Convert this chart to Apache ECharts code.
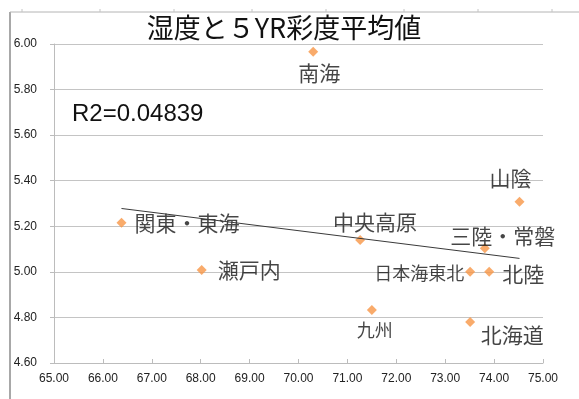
<!DOCTYPE html>
<html>
<head>
<meta charset="utf-8">
<script src="https://cdn.jsdelivr.net/npm/echarts@6/dist/echarts.min.js"></script>
<style>
  html, body { margin: 0; padding: 0; background: #ffffff; }
  #chart { width: 579px; height: 399px; }
</style>
</head>
<body>
<div id="chart"></div>
<script>
// Regions, mean humidity (%) and mean 5YR chroma
const regions  = ['南海', '関東・東海', '瀬戸内', '中央高原', '山陰', '三陸・常磐', '日本海東北', '北陸', '九州', '北海道'];
const humidity = [70.30, 66.38, 68.02, 71.26, 74.52, 73.81, 73.51, 73.90, 71.50, 73.51];
const chroma   = [5.966, 5.216, 5.008, 5.140, 5.308, 5.104, 5.001, 5.001, 4.833, 4.780];

// Axis ranges: [min, max, interval]
const xRange = [65, 75, 1];
const yRange = [4.6, 6.0, 0.2];

const titleText = '湿度と５YR彩度平均値';
const r2Text = 'R2=0.04839';

// Where each region's name sits relative to its marker
const labelPlacement = {
  '南海':       { align: 'center', offset: [6, 21],   size: 21 },
  '関東・東海': { align: 'left',   offset: [13, 0],   size: 21 },
  '瀬戸内':     { align: 'left',   offset: [16, 0],   size: 21 },
  '中央高原':   { align: 'center', offset: [15, -18], size: 21 },
  '山陰':       { align: 'center', offset: [-9, -24], size: 21 },
  '三陸・常磐': { align: 'center', offset: [18, -12], size: 21 },
  '日本海東北': { align: 'right',  offset: [-6, 2],   size: 18 },
  '北陸':       { align: 'left',   offset: [13, 2],   size: 21 },
  '九州':       { align: 'center', offset: [3, 20],   size: 18 },
  '北海道':     { align: 'center', offset: [42, 13],  size: 21 }
};

// Least-squares linear trend over the plotted points
function linearFit(xs, ys) {
  const n = xs.length;
  const mx = xs.reduce((a, b) => a + b, 0) / n;
  const my = ys.reduce((a, b) => a + b, 0) / n;
  let sxy = 0, sxx = 0;
  for (let i = 0; i < n; i++) {
    sxy += (xs[i] - mx) * (ys[i] - my);
    sxx += (xs[i] - mx) * (xs[i] - mx);
  }
  const slope = sxy / sxx;
  return { slope, intercept: my - slope * mx };
}
const fit = linearFit(humidity, chroma);
const xLo = Math.min(...humidity), xHi = Math.max(...humidity);
const trendData = [[xLo, fit.intercept + fit.slope * xLo], [xHi, fit.intercept + fit.slope * xHi]];

const CJK = '"Noto Sans CJK JP", "Noto Sans CJK SC", sans-serif';
const LATIN = '"Liberation Sans", Arial, sans-serif';

const pointData = regions.map((name, i) => {
  const p = labelPlacement[name];
  return {
    name: name,
    value: [humidity[i], chroma[i]],
    label: {
      show: true,
      position: 'inside',
      align: p.align,
      verticalAlign: 'middle',
      offset: p.offset,
      fontSize: p.size,
      fontFamily: CJK,
      color: '#161616',
      formatter: '{b}'
    }
  };
});

const chart = echarts.init(document.getElementById('chart'), null, { renderer: 'canvas' });
chart.setOption({
  backgroundColor: '#ffffff',
  animation: false,
  grid: { left: 54, right: 36, top: 44, bottom: 36, containLabel: false, outerBoundsMode: 'none' },
  xAxis: {
    type: 'value',
    min: xRange[0], max: xRange[1], interval: xRange[2],
    axisLine: { show: true, onZero: false, lineStyle: { color: '#bcbcbc', width: 1 } },
    axisTick: { show: true, inside: true, length: 4, lineStyle: { color: '#bcbcbc' } },
    axisLabel: { margin: 10, fontSize: 12, fontFamily: LATIN, color: '#222222',
                 formatter: v => v.toFixed(2) },
    splitLine: { show: false }
  },
  yAxis: {
    type: 'value',
    min: yRange[0], max: yRange[1], interval: yRange[2],
    axisLine: { show: true, onZero: false, lineStyle: { color: '#bcbcbc', width: 1 } },
    axisTick: { show: true, inside: false, length: 4, lineStyle: { color: '#bcbcbc' } },
    axisLabel: { margin: 17, fontSize: 12, fontFamily: LATIN, color: '#222222',
                 formatter: v => v.toFixed(2) },
    splitLine: { show: true, lineStyle: { color: '#c4c4c4', width: 1 } }
  },
  series: [
    {
      type: 'scatter',
      symbol: 'diamond',
      symbolSize: 10,
      itemStyle: { color: '#f79646' },
      data: pointData,
      emphasis: { disabled: true },
      z: 3
    },
    {
      type: 'line',
      data: trendData,
      symbol: 'none',
      lineStyle: { color: '#3a3a3a', width: 1 },
      emphasis: { disabled: true },
      silent: true,
      z: 4
    }
  ],
  graphic: [
    // outer frame edges
    { type: 'line', shape: { x1: 10, y1: 12, x2: 10, y2: 399 }, style: { stroke: '#a8a8a8', lineWidth: 2 } },
    { type: 'line', shape: { x1: 10, y1: 12, x2: 579, y2: 12 }, style: { stroke: '#b4b4b4', lineWidth: 1 } },
    ...[22, 100, 174, 252, 326, 404, 478, 552].map(x => ({
      type: 'line', shape: { x1: x, y1: 9, x2: x, y2: 12 }, style: { stroke: '#c4c4c4', lineWidth: 1 }
    })),
    {
      type: 'text', x: 284, y: 28,
      style: { text: titleText, font: '27px ' + CJK, fill: '#111111', align: 'center', verticalAlign: 'middle' }
    },
    {
      type: 'text', x: 72, y: 114,
      style: { text: r2Text, font: '24px ' + LATIN, fill: '#111111', align: 'left', verticalAlign: 'middle' }
    }
  ]
});
</script>
</body>
</html>
